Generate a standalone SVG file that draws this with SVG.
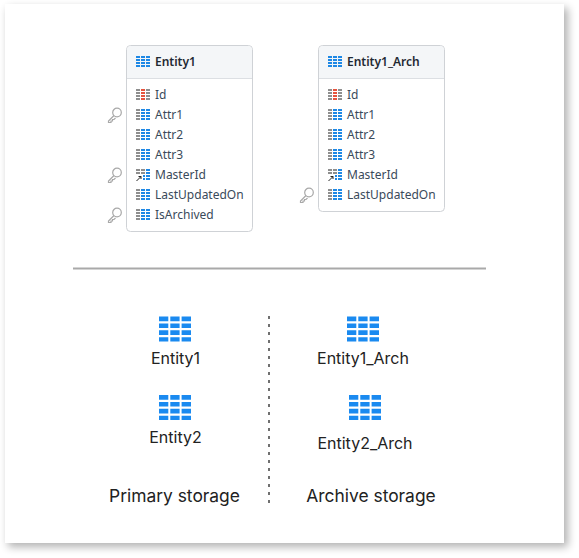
<svg xmlns="http://www.w3.org/2000/svg" width="579" height="558" viewBox="0 0 579 558">
<style>
text{font-family:"Noto Sans","Open Sans","Liberation Sans",sans-serif}
.t{font-size:12px;fill:#3a4a5a}
.h{font-size:12px;font-weight:600;fill:#1f2933}
.b{font-family:Inter,"Noto Sans",sans-serif;font-size:16px;fill:#222;text-anchor:middle}
.c{font-family:Inter,"Noto Sans",sans-serif;font-size:17.400px;fill:#222;text-anchor:middle}
.box{fill:#fff;stroke:#cfd2d6;stroke-width:1}
.hd{fill:#f4f6f8}
.k{fill:none;stroke:#a8a8a8;stroke-width:1.2}
</style>
<defs>
<filter id="sh" x="-5%" y="-5%" width="110%" height="110%"><feGaussianBlur stdDeviation="4"/></filter>
<path id="c0" d="M0 0h4v2h-4zM0 3h4v2h-4zM0 6h4v2h-4zM0 9h4v2h-4z"/>
<path id="c12" d="M5 0h4v2h-4zM5 3h4v2h-4zM5 6h4v2h-4zM5 9h4v2h-4zM10 0h4v2h-4zM10 3h4v2h-4zM10 6h4v2h-4zM10 9h4v2h-4z"/>
<path id="c2" d="M10 0h4v2h-4zM10 3h4v2h-4zM10 6h4v2h-4zM10 9h4v2h-4z"/>
<path id="c1" d="M5 0h4v2h-4zM5 3h4v2h-4zM5 6h4v2h-4zM5 9h4v2h-4z"/>
<g id="blue"><use href="#c0"/><use href="#c12"/></g>
<g id="col"><use href="#c0" fill="#8e8e8e"/><use href="#c12" fill="#1e88e5"/></g>
<g id="pk"><use href="#c0" fill="#8e8e8e"/><use href="#c1" fill="#e5533d"/><use href="#c2" fill="#8e8e8e"/></g>
<g id="fk"><path d="M0 0h4v2h-4zM0 3h4v2h-4zM5 0h4v2h-4zM5 3h4v2h-4z" fill="#8e8e8e"/><path d="M10 0h4v2h-4zM10 3h4v2h-4zM10 6h4v2h-4zM10 9h4v2h-4zM7 6h2v2h-2zM7 9h2v2h-2z" fill="#1e88e5"/><path d="M0.500 12L5 7.500M2.500 7.500H5V10" fill="none" stroke="#222" stroke-width="1"/></g>
<g id="key"><circle cx="10" cy="5.500" r="4.300" class="k"/><path d="M7 8.500L1.500 14v1.500h2.500v-1.500h1.500v-1.500h1.500l1.500-1.500" class="k"/></g>
<path id="big" d="M0 0h9.300v4.700h-9.300zM11.300 0h9.300v4.700h-9.300zM22.600 0h9.400v4.700h-9.400zM0 6.900h9.300v4.700h-9.300zM11.300 6.900h9.300v4.700h-9.300zM22.600 6.900h9.400v4.700h-9.400zM0 13.800h9.300v4.700h-9.300zM11.300 13.800h9.300v4.700h-9.300zM22.600 13.800h9.400v4.700h-9.400zM0 20.700h9.300v4.300h-9.300zM11.300 20.700h9.300v4.300h-9.300zM22.600 20.700h9.400v4.300h-9.400z"/>
</defs>
<rect width="579" height="558" fill="#fff"/>
<rect x="8" y="8" width="560" height="539" fill="#000" opacity=".3" filter="url(#sh)"/>
<rect x="5" y="4" width="559" height="539" fill="#fff"/>

<g id="Entity1">
<rect class="box" x="126.500" y="45.500" width="126" height="186" rx="4"/>
<path class="hd" d="M127 78V50a4 4 0 0 1 4-4H248a4 4 0 0 1 4 4V78Z"/>
<path d="M127 78.500H252" stroke="#dcdfe3"/>
<use href="#blue" x="136" y="56" fill="#1e88e5"/><text class="h" x="155" y="66">Entity1</text>
<use href="#pk" x="136" y="89"/><text class="t" x="155" y="99">Id</text>
<use href="#col" x="136" y="109"/><text class="t" x="155" y="119">Attr1</text>
<use href="#col" x="136" y="129"/><text class="t" x="155" y="139">Attr2</text>
<use href="#col" x="136" y="149"/><text class="t" x="155" y="159">Attr3</text>
<use href="#fk" x="136" y="169"/><text class="t" x="155" y="179">MasterId</text>
<use href="#col" x="136" y="189"/><text class="t" x="155" y="199">LastUpdatedOn</text>
<use href="#col" x="136" y="209"/><text class="t" x="155" y="219">IsArchived</text>
<use href="#key" x="107" y="107"/><use href="#key" x="107" y="167"/><use href="#key" x="107" y="207"/>
</g>
<g id="Entity1_Arch">
<rect class="box" x="318.500" y="45.500" width="126" height="166" rx="4"/>
<path class="hd" d="M319 78V50a4 4 0 0 1 4-4H440a4 4 0 0 1 4 4V78Z"/>
<path d="M319 78.500H444" stroke="#dcdfe3"/>
<use href="#blue" x="328" y="56" fill="#1e88e5"/><text class="h" x="347" y="66">Entity1_Arch</text>
<use href="#pk" x="328" y="89"/><text class="t" x="347" y="99">Id</text>
<use href="#col" x="328" y="109"/><text class="t" x="347" y="119">Attr1</text>
<use href="#col" x="328" y="129"/><text class="t" x="347" y="139">Attr2</text>
<use href="#col" x="328" y="149"/><text class="t" x="347" y="159">Attr3</text>
<use href="#fk" x="328" y="169"/><text class="t" x="347" y="179">MasterId</text>
<use href="#col" x="328" y="189"/><text class="t" x="347" y="199">LastUpdatedOn</text>
<use href="#key" x="299" y="187"/>
</g>
<g id="connectors">
<path d="M73 268.500H486" stroke="#a9a9a9" stroke-width="2" fill="none"/>
<path d="M269 316V504" stroke="#707070" stroke-width="2" stroke-dasharray="3 5" fill="none"/>
</g>
<g id="store1"><use href="#big" x="159" y="316.500" fill="#1a8af0"/><text class="b" x="175.500" y="364">Entity1</text></g>
<g id="store2"><use href="#big" x="159" y="395" fill="#1a8af0"/><text class="b" x="175.500" y="443">Entity2</text></g>
<g id="store3"><use href="#big" x="347" y="316.500" fill="#1a8af0"/><text class="b" x="363" y="364">Entity1_Arch</text></g>
<g id="store4"><use href="#big" x="349" y="395" fill="#1a8af0"/><text class="b" x="365" y="449">Entity2_Arch</text></g>
<text class="c" x="174.500" y="502">Primary storage</text>
<text class="c" x="371" y="502">Archive storage</text>
</svg>
